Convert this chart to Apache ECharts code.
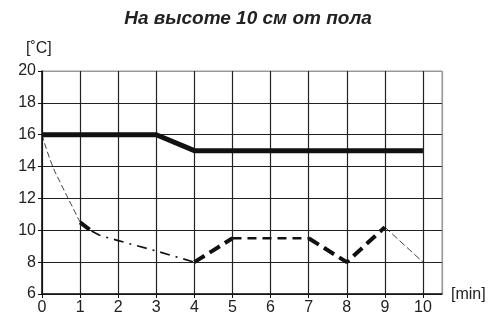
<!DOCTYPE html>
<html><head><meta charset="utf-8">
<script src="https://cdn.jsdelivr.net/npm/echarts@6/dist/echarts.min.js"></script>
<style>html,body{margin:0;padding:0;background:#fff}#c{width:496px;height:323px}</style>
</head><body><div id="c"></div>
<script>
var title = 'На высоте 10 см от пола';
var yTicks = [6, 8, 10, 12, 14, 16, 18, 20];
var xTicks = [0,1,2,3,4,5,6,7,8,9,10];
var solidLine = [[0,16],[3,16],[4,15],[10,15]];
var dashThinStart = [[0,16],[0.25,14.2],[0.5,12.9],[0.75,11.7],[1,10.5]];
var dashThickA = [[1,10.5],[1.3,9.95]];
var dashMidA = [[1.3,9.95],[1.5,9.7],[2,9.35],[3,8.7],[4,8]];
var dashThickB = [[4,8],[5,9.5]];
var dashMidB = [[5,9.5],[7,9.5]];
var dashThickC = [[7,9.5],[8,8],[9,10.2]];
var dashThinEnd = [[9,10.2],[10,8]];

var font = 'Liberation Sans, Arial, sans-serif';
function seg(data, w, dash, smooth) {
  return {type:'line', data:data, symbol:'none', smooth: !!smooth, z: 5,
    lineStyle:{color:'#111', width:w, type: dash, cap:'butt'}};
}
var xColors = xTicks.map(function(){return '#222';}); xColors.push('#999');
var yColors = yTicks.map(function(v){return v===20 ? '#999' : '#222';});
var chart = echarts.init(document.getElementById('c'));
chart.setOption({
  animation:false,
  title:{text:title, left:'center', top:4, textStyle:{fontFamily:font, fontSize:19, fontWeight:'bold', fontStyle:'italic', color:'#222'}},
  grid:{left:42, right:54, top:71, bottom:29, show:true, borderColor:'#999', borderWidth:1, backgroundColor:'transparent'},
  graphic:[
    {type:'text', left:26, top:41, style:{text:'[˚C]', font:'16px '+font, fill:'#222'}},
    {type:'text', left:451, top:287, style:{text:'[min]', font:'16px '+font, fill:'#222'}}
  ],
  xAxis:{type:'value', min:0, max:10.5, interval:1,
    axisLine:{show:true, onZero:false, lineStyle:{color:'#111', width:1.5}},
    axisTick:{show:true, length:4, inside:false, lineStyle:{color:'#111'}},
    axisLabel:{showMaxLabel:false, fontFamily:font, fontSize:16, color:'#222', margin:6},
    splitLine:{show:true, lineStyle:{color:xColors, width:1.2}}},
  yAxis:{type:'value', min:6, max:20, interval:2,
    axisLine:{show:true, onZero:false, lineStyle:{color:'#111', width:1.5}},
    axisTick:{show:true, length:4, lineStyle:{color:'#111'}},
    axisLabel:{fontFamily:font, fontSize:16, color:'#222', margin:6},
    splitLine:{show:true, lineStyle:{color:yColors, width:1.2}}},
  series:[
    seg(solidLine, 5, 'solid'),
    seg(dashThinStart, 0.8, [6,3], true),
    seg(dashThickA, 4, [12,5]),
    seg(dashMidA, 1.6, [10,6,2,6]),
    seg(dashThickB, 4, [12,6]),
    seg(dashMidB, 2.6, [9,6]),
    seg(dashThickC, 4, [12,6]),
    seg(dashThinEnd, 0.8, [7,3])
  ]
});
</script></body></html>
